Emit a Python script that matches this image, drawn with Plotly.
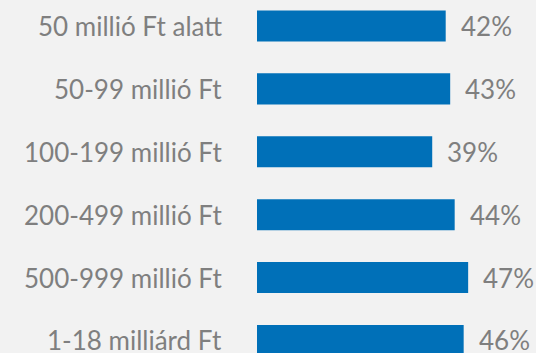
import plotly.graph_objects as go

categories = ["50 millió Ft alatt", "50-99 millió Ft", "100-199 millió Ft",
              "200-499 millió Ft", "500-999 millió Ft", "1-18 milliárd Ft"]
values = [42, 43, 39, 44, 47, 46]
value_labels = ["42%", "43%", "39%", "44%", "47%", "46%"]

pos = list(range(len(categories)))
BLUE = "#0070B8"
GREY = "#7F7F7F"
FONT = "Lato"

fig = go.Figure()
fig.add_trace(go.Bar(
    x=values, y=pos, orientation="h", width=0.493,
    marker=dict(color=BLUE, line=dict(width=0)),
    hoverinfo="skip",
))
for v, p, t in zip(values, pos, value_labels):
    fig.add_annotation(x=v, y=p, text=t, showarrow=False, xanchor="left",
                       yanchor="middle", xshift=13,
                       font=dict(family=FONT, size=26, color=GREY))
for c, p in zip(categories, pos):
    fig.add_annotation(x=0, xref="paper", y=p, text=c, showarrow=False,
                       xanchor="right", yanchor="middle", xshift=-33,
                       font=dict(family=FONT, size=26, color=GREY))

fig.update_layout(
    width=536, height=353,
    margin=dict(l=257, r=0, t=0, b=0),
    paper_bgcolor="#F2F2F2", plot_bgcolor="#F2F2F2",
    showlegend=False,
    xaxis=dict(range=[0, 62.1], visible=False, fixedrange=True),
    yaxis=dict(range=[5.199, -0.413], visible=False, fixedrange=True),
)
fig.write_html(
    "out.html",
    config={"displayModeBar": False},
    post_script="document.body.style.margin='0';document.body.style.overflow='hidden';",
)
